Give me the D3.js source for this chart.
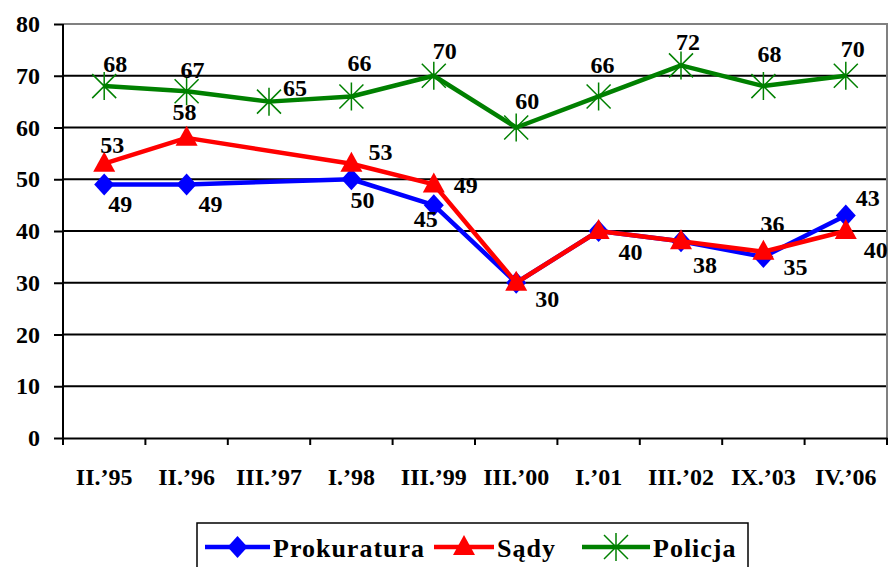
<!DOCTYPE html>
<html>
<head>
<meta charset="utf-8">
<script src="https://cdn.jsdelivr.net/npm/d3@7"></script>
<style>
  body { margin: 0; background: #fff; }
  svg { display: block; }
</style>
</head>
<body>
<div id="chart"></div>
<script>
const categories = ["II.’95", "II.’96", "III.’97", "I.’98", "III.’99", "III.’00", "I.’01", "III.’02", "IX.’03", "IV.’06"];
const prokuratura = [49, 49, null, 50, 45, 30, 40, 38, 35, 43];
const sady = [53, 58, null, 53, 49, 30, 40, 38, 36, 40];
const policja = [68, 67, 65, 66, 70, 60, 66, 72, 68, 70];
const yTicks = [0, 10, 20, 30, 40, 50, 60, 70, 80];

// label placement, relative to the marker (left edge, baseline)
const prokuraturaLabelPos = [[4, 28], [12, 28], null, [-1, 29], [-20, 22], null, null, null, [20, 18], [10, -9]];
const sadyLabelPos = [[-4, -11], [-14, -18], null, [17, -4], [20, 9], [19, 24], [20, 29], [12, 32], [-3, -20], [18, 27]];
const policjaLabelPos = [[-1, -14], [-6, -13], [14, -6], [-4, -25], [-1, -17], [-1, -19], [-8, -23], [-5, -15], [-6, -24], [-5, -19]];

const FONT = '"Liberation Serif", Tinos, "Times New Roman", "DejaVu Serif", serif';

const series = [
  { name: "Prokuratura", values: prokuratura, labels: prokuraturaLabelPos, color: "#0000FF", marker: "diamond" },
  { name: "Sądy", values: sady, labels: sadyLabelPos, color: "#FF0000", marker: "triangle" },
  { name: "Policja", values: policja, labels: policjaLabelPos, color: "#008000", marker: "star" }
];

document.addEventListener("DOMContentLoaded", draw);

function drawMarker(g, type, color) {
  if (type === "diamond") {
    g.append("path").attr("d", "M0,-11L10,0L0,11L-10,0Z").attr("fill", color);
  } else if (type === "triangle") {
    g.append("path").attr("d", "M0,-12L11,8L-11,8Z").attr("fill", color);
  } else {
    g.append("path")
      .attr("d", "M-12,-12L12,12M-12,12L12,-12M0,-14L0,14")
      .attr("stroke", color)
      .attr("stroke-width", 1.5)
      .attr("fill", "none");
  }
}

function draw() {
  const width = 890;
  const height = 567;
  const plot = { left: 63, right: 887, top: 24, bottom: 438 };

  const svg = d3.select("#chart")
    .append("svg")
    .attr("width", width)
    .attr("height", height)
    .attr("font-family", FONT)
    .attr("font-weight", "bold");

  const x = d3.scaleBand()
    .domain(categories)
    .range([plot.left, plot.right]);

  const y = d3.scaleLinear()
    .domain([0, 80])
    .range([plot.bottom, plot.top]);

  // gridlines
  svg.append("g")
    .selectAll("line")
    .data(yTicks.filter(t => t > 0 && t < 80))
    .enter()
    .append("line")
    .attr("x1", plot.left)
    .attr("x2", plot.right)
    .attr("y1", d => y(d))
    .attr("y2", d => y(d))
    .attr("stroke", "#000")
    .attr("stroke-width", 2);

  // plot frame (top and right)
  svg.append("path")
    .attr("d", `M${plot.left},${y(80)}H${plot.right}V${plot.bottom}`)
    .attr("fill", "none")
    .attr("stroke", "#808080")
    .attr("stroke-width", 2);

  // y axis
  const yAxis = svg.append("g")
    .attr("transform", `translate(${plot.left},0)`)
    .call(d3.axisLeft(y).tickValues(yTicks).tickSize(9).tickPadding(14));
  yAxis.attr("font-family", FONT).attr("font-size", 24);
  yAxis.select(".domain").attr("stroke", "#000").attr("stroke-width", 2)
    .attr("d", `M0,${plot.top}V${plot.bottom + 7}`);
  yAxis.selectAll(".tick line").attr("stroke", "#000").attr("stroke-width", 2);
  yAxis.selectAll(".tick text").attr("fill", "#000");

  // x axis
  const xAxis = svg.append("g")
    .attr("transform", `translate(0,${plot.bottom})`)
    .call(d3.axisBottom(x).tickSize(0).tickPadding(30));
  xAxis.attr("font-family", FONT).attr("font-size", 24);
  xAxis.select(".domain").attr("stroke", "#000").attr("stroke-width", 2);
  xAxis.selectAll(".tick text").attr("fill", "#000");

  const edges = categories.map(c => x(c)).concat([plot.right]);
  svg.append("g")
    .selectAll("line")
    .data(edges)
    .enter()
    .append("line")
    .attr("x1", d => d)
    .attr("x2", d => d)
    .attr("y1", plot.bottom)
    .attr("y2", plot.bottom + 7)
    .attr("stroke", "#000")
    .attr("stroke-width", 2);

  const cx = i => x(categories[i]) + x.bandwidth() / 2;

  const line = d3.line()
    .x(d => cx(d.i))
    .y(d => y(d.v));

  series.forEach(s => {
    const pts = s.values.map((v, i) => ({ v, i })).filter(d => d.v != null);

    svg.append("path")
      .datum(pts)
      .attr("d", line)
      .attr("fill", "none")
      .attr("stroke", s.color)
      .attr("stroke-width", 4.5)
      .attr("stroke-linejoin", "round");

    svg.append("g")
      .selectAll("g")
      .data(pts)
      .enter()
      .append("g")
      .attr("transform", d => `translate(${cx(d.i)},${y(d.v)})`)
      .each(function () { drawMarker(d3.select(this), s.marker, s.color); });
  });

  // data labels on top
  series.forEach(s => {
    const pts = s.values.map((v, i) => ({ v, i })).filter(d => d.v != null && s.labels[d.i]);
    svg.append("g")
      .selectAll("text")
      .data(pts)
      .enter()
      .append("text")
      .attr("x", d => cx(d.i) + s.labels[d.i][0])
      .attr("y", d => y(d.v) + s.labels[d.i][1])
      .attr("font-size", 24)
      .text(d => d.v);
  });

  // legend
  const legend = svg.append("g");
  legend.append("rect")
    .attr("x", 197)
    .attr("y", 523)
    .attr("width", 551)
    .attr("height", 60)
    .attr("fill", "#fff")
    .attr("stroke", "#000")
    .attr("stroke-width", 1.5);

  const legendItems = [
    { s: series[0], x0: 205, len: 65 },
    { s: series[1], x0: 434, len: 60 },
    { s: series[2], x0: 582, len: 68 }
  ];
  legendItems.forEach(({ s, x0, len }) => {
    const ly = 547;
    legend.append("line")
      .attr("x1", x0).attr("x2", x0 + len)
      .attr("y1", ly).attr("y2", ly)
      .attr("stroke", s.color)
      .attr("stroke-width", 4.5);
    const mg = legend.append("g").attr("transform", `translate(${x0 + len / 2},${ly})`);
    drawMarker(mg, s.marker, s.color);
    legend.append("text")
      .attr("x", x0 + len + 3)
      .attr("y", ly + 10)
      .attr("font-size", 26)
      .attr("letter-spacing", 1)
      .text(s.name);
  });
}
</script>
</body>
</html>
